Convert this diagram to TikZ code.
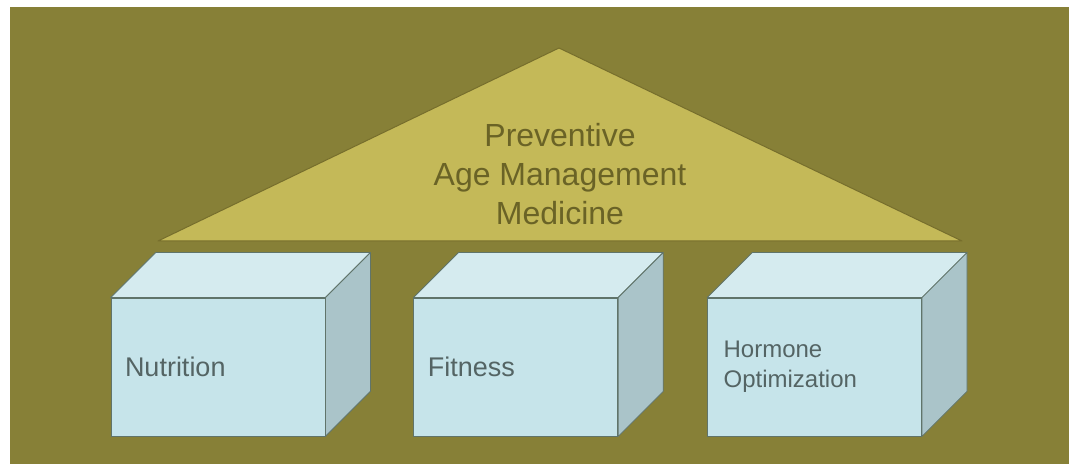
\documentclass[tikz,border=0pt]{standalone}
\usepackage{fontspec}
\setmainfont{Liberation Sans}
\usetikzlibrary{positioning}

\definecolor{olive}{RGB}{135,128,55}
\definecolor{roof}{RGB}{196,185,88}
\definecolor{roofline}{RGB}{118,110,44}
\definecolor{rooftext}{RGB}{106,99,38}
\definecolor{boxfront}{RGB}{198,228,234}
\definecolor{boxtop}{RGB}{213,235,239}
\definecolor{boxside}{RGB}{170,196,201}
\definecolor{boxedge}{RGB}{96,116,106}
\definecolor{boxtext}{RGB}{84,100,100}

\tikzset{
  frontface/.style={draw=boxedge, fill=boxfront, line width=0.8pt,
    minimum height=138pt, inner xsep=14pt, align=left,
    text=boxtext, font=\fontsize{27}{32}\selectfont},
  topface/.style={draw=boxedge, fill=boxtop, line width=0.8pt, line join=round},
  sideface/.style={draw=boxedge, fill=boxside, line width=0.8pt, line join=round},
  roofface/.style={draw=roofline, fill=roof, line width=1pt, line join=round},
  rooflabel/.style={align=center, text=rooftext, font=\fontsize{32}{39}\selectfont}
}

% back faces of a box, 45 deep
\newcommand{\cuboid}[1]{%
  \draw[topface] (#1.north west) -- ([shift={(45,45)}]#1.north west)
    -- ([shift={(45,45)}]#1.north east) -- (#1.north east) -- cycle;
  \draw[sideface] (#1.north east) -- ([shift={(45,45)}]#1.north east)
    -- ([shift={(45,45)}]#1.south east) -- (#1.south east) -- cycle;
}

\begin{document}
\begin{tikzpicture}[x=1pt, y=1pt]

    \useasboundingbox (0,0) rectangle (1069,464);
    \fill[white] (0,0) rectangle (1069,464);
    \fill[olive] (10,0) rectangle (1069,457);


    % roof
    \coordinate (apex) at (559,416);
    \coordinate (eaveL) at (158,223);
    \coordinate (eaveR) at (962,223);
    \draw[roofface] (eaveL) -- (apex) -- (eaveR) -- cycle;
    \node[rooflabel] (pamm) at (560,290) {Preventive\\Age Management\\Medicine};


    % boxes
    \node[frontface, minimum width=214pt, text width=186pt] (nutrition) at (218,97) {Nutrition};
    \node[frontface, minimum width=204pt, text width=176pt, right=88pt of nutrition] (fitness) {Fitness};
    \node[frontface, minimum width=214pt, text width=182pt, inner xsep=16pt,
          font=\fontsize{24}{30}\selectfont, right=89pt of fitness] (hormone) {Hormone\\Optimization};
    \cuboid{nutrition}
    \cuboid{fitness}
    \cuboid{hormone}

\end{tikzpicture}
\end{document}
